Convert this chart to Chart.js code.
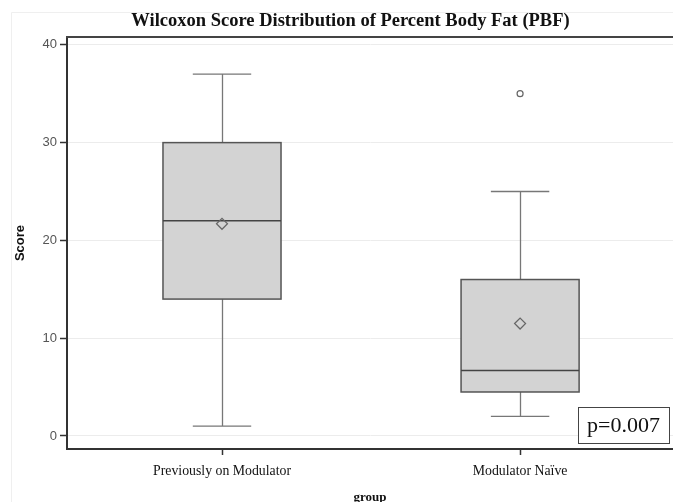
<!DOCTYPE html>
<html><head><meta charset="utf-8">
<script src="https://cdn.jsdelivr.net/npm/chart.js@4"></script>
<style>html,body{margin:0;padding:0;background:#fff}#wrap{width:673px;height:502px}</style>
</head><body><div id="wrap"><canvas id="c" width="673" height="502"></canvas></div>
<script>
const categories = ['Previously on Modulator', 'Modulator Na\u00efve'];
const whiskerLow = [1, 2];
const q1 = [14, 4.5];
const median = [22, 6.7];
const q3 = [30, 16];
const whiskerHigh = [37, 25];
const means = [21.7, 11.5];
const outliers = [[], [35]];
const yTicks = [0, 10, 20, 30, 40];
const pValueText = 'p=0.007';

const BOX_HALF = 0.198;   // in category units
const CAP_HALF = 0.098;

const boxPlugin = {
  id: 'boxes',
  afterLayout(chart) {
    if (chart.titleBlock) chart.titleBlock.left = 28;
  },
  beforeDraw(chart) {
    const ctx = chart.ctx;
    ctx.save();
    ctx.strokeStyle = '#efefef'; ctx.lineWidth = 1;
    ctx.beginPath(); ctx.moveTo(11.5, 502); ctx.lineTo(11.5, 12.5); ctx.lineTo(673, 12.5); ctx.stroke();
    ctx.restore();
  },
  beforeDatasetsDraw(chart) {
    const ctx = chart.ctx, xs = chart.scales.x, ys = chart.scales.y, a = chart.chartArea;
    ctx.save();
    ctx.strokeStyle = '#444'; ctx.lineWidth = 2;
    ctx.beginPath(); ctx.moveTo(a.left - 1, a.top); ctx.lineTo(a.right, a.top); ctx.stroke();
    categories.forEach((c, i) => {
      const cx = Math.round(xs.getPixelForValue(i)) + 0.5;
      const bl = xs.getPixelForValue(i - BOX_HALF), br = xs.getPixelForValue(i + BOX_HALF);
      const cl = xs.getPixelForValue(i - CAP_HALF), cr = xs.getPixelForValue(i + CAP_HALF);
      const yLo = ys.getPixelForValue(whiskerLow[i]), yQ1 = ys.getPixelForValue(q1[i]);
      const yMed = ys.getPixelForValue(median[i]), yQ3 = ys.getPixelForValue(q3[i]);
      const yHi = ys.getPixelForValue(whiskerHigh[i]);
      ctx.strokeStyle = '#777'; ctx.lineWidth = 1.3;
      ctx.beginPath();
      ctx.moveTo(cx, yLo); ctx.lineTo(cx, yQ1);
      ctx.moveTo(cx, yQ3); ctx.lineTo(cx, yHi);
      ctx.moveTo(cl, yLo); ctx.lineTo(cr, yLo);
      ctx.moveTo(cl, yHi); ctx.lineTo(cr, yHi);
      ctx.stroke();
      ctx.fillStyle = '#d3d3d3';
      ctx.fillRect(bl, yQ3, br - bl, yQ1 - yQ3);
      ctx.strokeStyle = '#555'; ctx.lineWidth = 1.5;
      ctx.strokeRect(bl, yQ3, br - bl, yQ1 - yQ3);
      ctx.strokeStyle = '#444'; ctx.lineWidth = 1.5;
      ctx.beginPath(); ctx.moveTo(bl, yMed); ctx.lineTo(br, yMed); ctx.stroke();
    });
    ctx.restore();
  },
  afterDatasetsDraw(chart) {
    const ctx = chart.ctx, a = chart.chartArea;
    ctx.save();
    const w = 91, h = 36;
    const x = a.right - 4 - w, y = a.bottom - 6 - h;
    ctx.fillStyle = '#fff'; ctx.fillRect(x, y, w, h);
    ctx.strokeStyle = '#444'; ctx.lineWidth = 1;
    ctx.strokeRect(Math.round(x) + 0.5, Math.round(y) + 0.5, w, h);
    ctx.fillStyle = '#111';
    ctx.font = '22px "Liberation Serif", "Times New Roman", serif';
    ctx.textAlign = 'center'; ctx.textBaseline = 'middle';
    ctx.fillText(pValueText, x + w / 2, y + h / 2 + 1);
    ctx.restore();
  }
};

const meanPoints = categories.map((c, i) => ({ x: i, y: means[i] }));
const outlierPoints = [];
outliers.forEach((arr, i) => arr.forEach(v => outlierPoints.push({ x: i, y: v })));

new Chart(document.getElementById('c'), {
  type: 'scatter',
  data: {
    datasets: [
      { label: 'Mean', data: meanPoints, pointStyle: 'rectRot', pointRadius: 5.5,
        borderColor: '#666', backgroundColor: 'rgba(0,0,0,0)', borderWidth: 1.2 },
      { label: 'Outlier', data: outlierPoints, pointStyle: 'circle', pointRadius: 3,
        borderColor: '#666', backgroundColor: 'rgba(0,0,0,0)', borderWidth: 1.2 }
    ]
  },
  options: {
    responsive: false,
    animation: false,
    devicePixelRatio: 1,
    layout: { padding: 0, autoPadding: false },
    plugins: {
      legend: { display: false },
      tooltip: { enabled: false },
      title: {
        display: true,
        text: 'Wilcoxon Score Distribution of Percent Body Fat (PBF)',
        color: '#111',
        font: { family: '"Liberation Serif", "Times New Roman", serif', size: 18.5, weight: 'bold', lineHeight: 1.2 },
        padding: { top: 10.4, bottom: 4.4 }
      }
    },
    scales: {
      x: {
        type: 'linear', min: -0.52, max: 1.513,
        afterBuildTicks: s => { s.ticks = categories.map((c, i) => ({ value: i })); },
        afterFit: s => { s.height = 53; s.paddingLeft = 0; s.paddingRight = 0; },
        grid: { drawOnChartArea: false, drawTicks: true, tickLength: 6, tickColor: '#333', tickWidth: 1.5 },
        border: { display: true, color: '#333', width: 2 },
        ticks: {
          callback: v => categories[v],
          color: '#111', autoSkip: false, maxRotation: 0, padding: 8,
          font: { family: '"Liberation Serif", "Times New Roman", serif', size: 13.8 }
        },
        title: {
          display: true, text: 'group', color: '#111',
          font: { family: '"Liberation Serif", "Times New Roman", serif', size: 13, weight: 'bold' },
          padding: { top: 0, bottom: -3 }
        }
      },
      y: {
        type: 'linear', min: -1.33, max: 40.8,
        afterBuildTicks: s => { s.ticks = yTicks.map(v => ({ value: v })); },
        afterFit: s => { s.width = 67; s.paddingTop = 0; s.paddingBottom = 0; },
        grid: { color: '#ececec', lineWidth: 1, drawTicks: true, tickLength: 7, tickColor: '#333', tickWidth: 1.5 },
        border: { display: true, color: '#333', width: 2 },
        ticks: {
          color: '#555', padding: 3,
          font: { family: '"Liberation Sans", Arial, sans-serif', size: 13 }
        },
        title: {
          display: true, text: 'Score', color: '#111',
          font: { family: '"Liberation Sans", Arial, sans-serif', size: 13, weight: 'bold' },
          padding: { top: 12.2, bottom: 0 }
        }
      }
    }
  },
  plugins: [boxPlugin]
});
</script>
</body></html>
